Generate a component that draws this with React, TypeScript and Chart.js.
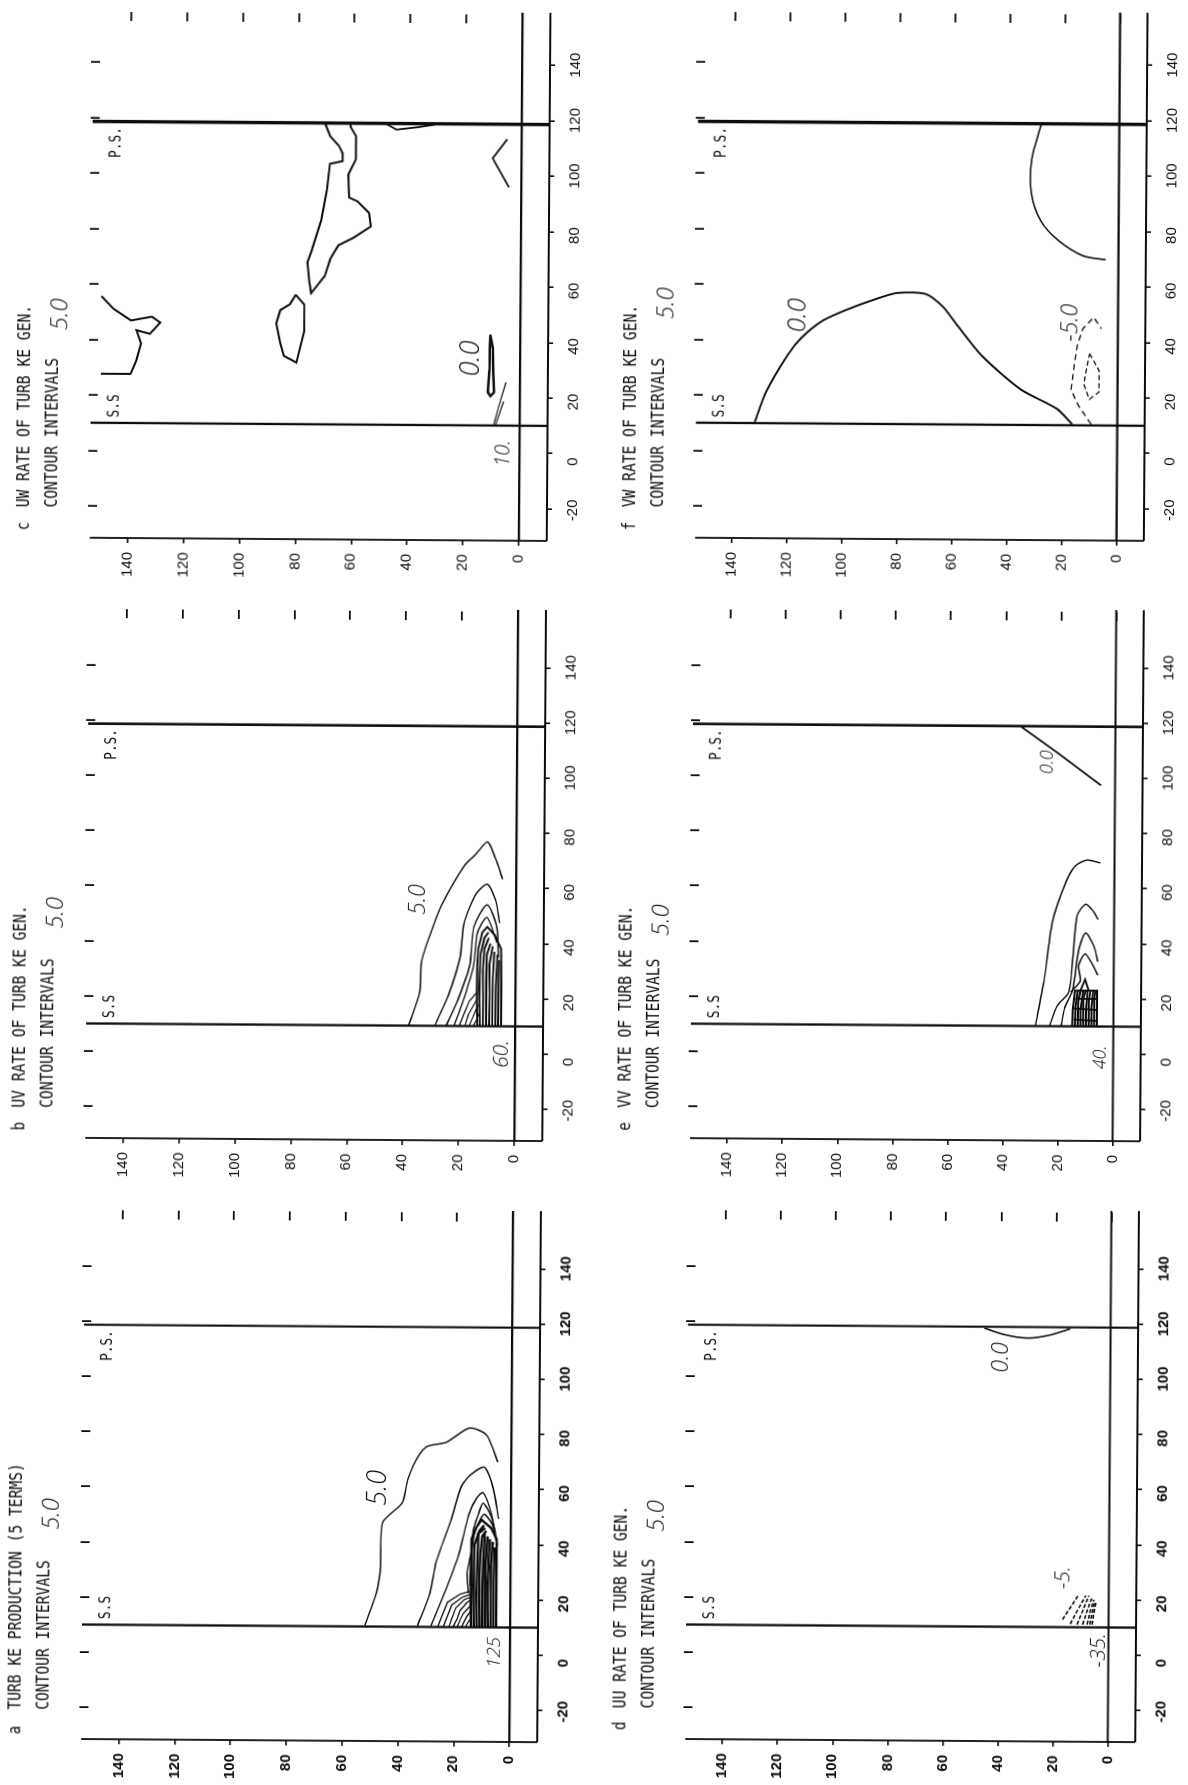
import React, { useEffect, useRef } from "react";
import { Chart, registerables } from "chart.js";

Chart.register(...registerables);

type Pt = [number, number];

const X_TICKS = [-20, 0, 20, 40, 60, 80, 100, 120, 140];
const Y_TICKS = [0, 20, 40, 60, 80, 100, 120, 140];
const SS_X = 10;
const PS_X = 118.7;

// a: turbulence production
const A1: Pt[] = [[10.4,52.1],[22.3,48],[31.8,46.6],[47.7,46],[54.8,39.1],[63.5,37],[71.4,33.6],[75.4,30.2],[77,23.3],[82.2,15.1],[79.7,8.9],[69.9,4.8]];
const A2: Pt[] = [[10.4,33.2],[22.3,28.8],[33.4,26.7],[49.3,21.3],[61.1,17.8],[65.4,14.4],[68,9.6],[60.4,6.4],[49.3,4.4]];
const A3: Pt[] = [[10.4,28.4],[23.1,23.3],[36.6,18.5],[50.8,15.1],[56.9,12.3],[58.8,10],[50.8,6.9],[39.7,4.8]];
const A4: Pt[] = [[22.3,15],[30,15.5],[38,14],[45,13.5],[50,12],[55,10],[50,7],[44,5.5]];
const A5: Pt[] = [[25,14.5],[35,14.2],[44,13],[49,11],[51,9.5],[47,6.5],[40,5]];
const A_ARCS: Pt[][] = [
  [[10,26],[14,24.5],[19,22.5],[22,18],[23,14.5]],
  [[10,24],[14,22.5],[18,21],[21,17],[22,14]],
  [[10,22],[13,21],[17,19.5],[20,16.5],[21,14]],
  [[10,20.5],[13,19],[16,18],[19,15.5],[20,14]],
  [[10,19],[13,17.8],[15,16.8],[17,15],[18,14]],
  [[10,17.5],[12,16.5],[14,15.5],[16,14]],
  [[10,16],[12,15],[13,14]],
];
const A_CORE: Pt[][] = [
  [[10,14],[20,14.2],[30,14],[42,14],[46,12.5],[49,10.5],[46,7],[42,5],[30,5],[20,5],[10,5]],
  [[10,13],[25,13.2],[40,13],[45,11.2],[47,9.6]],
  [[10,12],[22,12.2],[33,11.9],[44,11.6],[46,9.2]],
  [[10,11],[27,11.2],[36,10.9],[43,10.2],[45,8.8]],
  [[10,10],[24,10.1],[35,9.7],[44,9.3]],
  [[10,9],[20,9],[30,9.2],[43,8.3]],
  [[10,8],[26,8.2],[35,7.9],[42,7.4]],
  [[10,7],[22,7],[32,7.1],[41,6.4]],
  [[10,6],[27,6],[39,5.8]],
];

// b: UV rate
const B1: Pt[] = [[10,38.1],[22.4,34.2],[33.5,33.6],[44.6,30.1],[53.6,26.7],[68.2,18.5],[72.4,14.4],[76.8,10.3],[71,7.5],[63.3,4.8]];
const B2: Pt[] = [[10,28.8],[21,24],[34.9,19.9],[47.4,18.5],[57.8,14.4],[61.5,10.3],[55.7,7.3],[47.4,5.8]];
const B3: Pt[] = [[10,24.7],[19.6,20.5],[32,16.4],[46,15],[54,10.3],[46,6.8],[34.9,6.2]];
const B4: Pt[] = [[10,21.9],[19.6,18.5],[32,15],[43.9,13.7],[49.4,10.3],[40.4,6.8]];
const B_ARCS: Pt[][] = [
  [[10,20],[14,18.5],[19,16.5],[22,14]],
  [[10,18],[14,16.8],[17,15.2],[20,13.5]],
  [[10,16.5],[13,15.2],[16,14],[18,13]],
  [[10,15],[12,14],[15,12.6]],
];
const B_CORE: Pt[][] = [
  [[10,13.5],[22,13.8],[32,13.7],[38,13.4],[44,12],[46,10.2],[43,7.5],[38,5.2],[25,5],[10,5]],
  [[10,12.6],[24,12.9],[36,12.6],[42,11.2],[44,9.8]],
  [[10,11.5],[20,11.5],[30,11.7],[38,11.2],[42,9.6]],
  [[10,10.4],[26,10.5],[36,10.3],[40,9]],
  [[10,9.3],[22,9.2],[32,9.4],[39,8.2]],
  [[10,8.2],[27,8.1],[37,7.6]],
  [[10,7.1],[24,7],[36,6.5]],
  [[10,6.1],[24,6],[34,5.9]],
];

// c: UW rate
const C1: Pt[] = [[118.8,70.4],[114,68.5],[110.5,65.3],[107.8,64],[105,64],[104,68.5],[94.6,69.5],[83.6,71.5],[72.5,74.9],[68.4,76.3],[61.5,75.6],[57.3,74.9],[63.5,70.1],[69.8,68.1],[74.6,65.3],[77.4,59.9],[81.5,53.7],[86.4,54.4],[90.5,58.5],[91.9,61.6],[100.2,61.9],[105.7,59.2],[114,59.2],[117.4,61.2],[118.8,61.2]];
const C2: Pt[] = [[56.7,80.4],[53.2,77.4],[43.5,77.3],[32.2,80],[34.6,84.5],[39.4,85.9],[46.3,87.3],[51.1,85.9],[53.2,82.5],[56.7,80.4]];
const C3: Pt[] = [[55.7,149.9],[51.1,145.5],[47,139.3],[48.4,131.8],[46.3,128.8],[42.2,132.5],[43.5,137.3],[38.7,135.6],[32.5,137.3],[27.7,139.3],[27.7,149.9]];
const C4: Pt[] = [[118.8,48.9],[116.5,44.8],[117.4,37.3],[118.4,31.1]];
const C5: Pt[] = [[113.3,5.1],[106.4,10.3],[96,4.4]];
const C6: Pt[] = [[42.8,10.7],[38,10.8],[30,10.9],[22,11.5],[20.6,10.5],[22,9.2],[30,9.6],[38,9.8],[42.8,10.7]];
const C7: Pt[] = [[10.4,9.2],[15.9,7.8],[25.6,5]];
const C8: Pt[] = [[10.4,8.5],[18.7,5.8]];

// d: UU rate
const D1: Pt[] = [[118.2,45.9],[115.8,38.2],[114.7,29.9],[115.8,22.3],[118.2,14.6]];
const D_DASH: Pt[][] = [
  [[12.8,16.7],[17,14],[21.5,11.1]],
  [[11.2,13.9],[16,11.4],[21.5,8.3]],
  [[11,11.4],[16,9.4],[21.5,7.2]],
  [[11,9.4],[16,7.8],[20.5,6.2]],
  [[11,7.8],[16,6.6],[20,5.4]],
  [[11,6.8],[16,5.8],[19.5,5]],
  [[11,6],[16,5.2],[19,4.6]],
];

// e: VV rate
const E1: Pt[] = [[10,28.4],[26.5,25.3],[47.4,22.5],[62,17.7],[68.2,14.2],[70.3,10],[69.3,5.1]];
const E2: Pt[] = [[10,23.2],[17.5,20.4],[22.4,16.3],[34.9,14.9],[50.1,13.5],[54.3,10.4],[52.2,7.9],[48.8,5.8]];
const E3: Pt[] = [[10,19],[16.8,17.7],[23.1,14.9],[37.6,12.8],[43.9,10.3],[39,7.2],[33.5,5.8]];
const E4: Pt[] = [[22.4,15.6],[26.5,12.1],[32,12.8],[36.3,10.4],[32,7.5],[28.6,5.8]];
const E5: Pt[] = [[118.6,34.4],[109.2,21.1],[97.4,5.1]];
const E_CORE: Pt[][] = [
  [[10,15],[16,14.8],[23,14],[23,6],[10,6]],
  [[10,14],[17,13.8],[23,13]],
  [[10,13],[19,12.8],[23,12],[27,10.4],[23,9]],
  [[10,12],[16,12],[23,11]],
  [[10,11],[20,11],[23,10]],
  [[10,10],[16,10],[23,9.4]],
  [[10,9],[19,9],[23,8.4]],
  [[10,8],[17,8],[23,7.4]],
  [[10,7],[20,7],[23,6.6]],
  [[12,6],[12.5,14.5]],
  [[16,6],[16.5,14.5]],
  [[20,6],[20,13.8]],
];

// f: VW rate
const F1: Pt[] = [[10.4,132],[21.4,127.9],[34.6,120.2],[40.8,115.3],[47,107.7],[51.5,97.9],[55.3,87.5],[57.3,80.5],[57,70.1],[52.5,63.8],[46.3,58.9],[34.6,49.2],[22.8,35.2],[15.9,22],[10.4,16.4]];
const F2: Pt[] = [[118.8,28.3],[105.7,31.8],[93.3,31.8],[83.6,28.3],[76.7,22],[71.2,13],[69.8,4.6]];
const F3: Pt[] = [[10.4,9.5],[17.3,14.3],[22.8,16.9],[32.5,15.7],[39.4,14.6],[44.9,12.7],[49,8.8],[44.9,6]];
const F4: Pt[] = [[35.9,10.2],[29.7,6.7],[22.1,6.7],[19.4,10.2],[24.9,12.3],[32.5,10.9],[35.9,10.2]];

type Curve = { d: Pt[]; w: number; dash?: number[]; t?: number };
type Note = { s: string; x: number; y: number; size: number };
type Panel = {
  letter: string; t1: string; t2: string; lx: number; x1: number; x2: number; ival: number;
  pxX: number; pxY: number; p0: Pt; psW: number; tickWeight: "bold" | "normal"; xMax: number;
  curves: Curve[]; notes: Note[];
};

const thin = (d: Pt[]): Curve => ({ d, w: 1.45, t: 0.25 });
const black = (d: Pt[], w = 1.5): Curve => ({ d, w });

const PANELS: Panel[] = [
  { letter: "a", t1: "TURB KE PRODUCTION (5 TERMS)", t2: "CONTOUR INTERVALS", lx: -30, x1: -21, x2: -21, ival: 50, tickWeight: "bold", xMax: 157,
    pxX: 2.757, pxY: 2.79, p0: [510, 1710.3], psW: 2.1,
    curves: [A1, A2, A3, A4, A5].map(thin).concat(A_ARCS.map((d) => black(d, 1.3))).concat(A_CORE.map((d) => black(d, 2.4))),
    notes: [{ s: "5.0", x: 60.3, y: 47.5, size: 27 }, { s: "125", x: 0.9, y: 5.5, size: 19 }] },
  { letter: "b", t1: "UV RATE OF TURB KE GEN.", t2: "CONTOUR INTERVALS", lx: -29, x1: -20.7, x2: -20.7, ival: 50, tickWeight: "normal", xMax: 157,
    pxX: 2.756, pxY: 2.796, p0: [514.7, 1109.2], psW: 2.6,
    curves: [B1, B2, B3, B4].map(thin).concat(B_ARCS.map((d) => black(d, 1.2))).concat(B_CORE.map((d) => black(d, 1.9))),
    notes: [{ s: "5.0", x: 55.7, y: 35, size: 23 }, { s: "60.", x: 0, y: 4.8, size: 21 }] },
  { letter: "c", t1: "UW RATE OF TURB KE GEN.", t2: "CONTOUR INTERVALS", lx: -29, x1: -20.7, x2: -20.7, ival: 49, tickWeight: "normal", xMax: 155,
    pxX: 2.77, pxY: 2.794, p0: [519.3, 509], psW: 3.4,
    curves: [{ d: C1, w: 2 }, { d: C2, w: 2 }, { d: C3, w: 2 }, { d: C4, w: 1.8 }, { d: C5, w: 1.8 }, { d: C6, w: 2.5 }, { d: C7, w: 1.2 }, { d: C8, w: 1.2 }],
    notes: [{ s: "0.0", x: 34.1, y: 17.4, size: 27 }, { s: "10.", x: 0, y: 5.8, size: 20 }] },
  { letter: "d", t1: "UU RATE OF TURB KE GEN.", t2: "CONTOUR INTERVALS", lx: -28.4, x1: -20.5, x2: -20.5, ival: 49.3, tickWeight: "bold", xMax: 157,
    pxX: 2.757, pxY: 2.75, p0: [1108, 1710.3], psW: 2.1,
    curves: [{ d: D1, w: 1.6, t: 0.3 }].concat(D_DASH.map((d) => ({ d, w: 1.6, dash: [4, 2] }))),
    notes: [{ s: "0.0", x: 107.6, y: 39.6, size: 23 }, { s: "-5.", x: 27.9, y: 16.7, size: 21 }, { s: "-35.", x: 1.7, y: 3.5, size: 21 }] },
  { letter: "e", t1: "VV RATE OF TURB KE GEN.", t2: "CONTOUR INTERVALS", lx: -29, x1: -20.7, x2: -20.7, ival: 47.4, tickWeight: "normal", xMax: 157,
    pxX: 2.756, pxY: 2.751, p0: [1113, 1109.2], psW: 2.6,
    curves: [E1, E2, E3, E4].map(thin).concat([{ d: E5, w: 1.8 }]).concat(E_CORE.map((d) => black(d, 1.9))),
    notes: [{ s: "0.0", x: 105.7, y: 24.6, size: 18 }, { s: "40.", x: -1.2, y: 4.5, size: 18 }] },
  { letter: "f", t1: "VW RATE OF TURB KE GEN.", t2: "CONTOUR INTERVALS", lx: -29, x1: -20.7, x2: -20.7, ival: 53, tickWeight: "normal", xMax: 155,
    pxX: 2.77, pxY: 2.747, p0: [1117, 509], psW: 3.4,
    curves: [{ d: F1, w: 1.9, t: 0.25 }, { d: F2, w: 1.6, t: 0.3 }, { d: F3, w: 1.3, dash: [6, 4] }, { d: F4, w: 1.3, dash: [5, 3] }],
    notes: [{ s: "0.0", x: 49, y: 116.7, size: 26 }, { s: "-5.0", x: 47, y: 17.1, size: 23 }] },
];

const X_MIN = -31.5;
const Y_MIN = -10;
const Y_MAX = 151;
const M_L = 50;
const M_R = 20;
const M_T = 100;
const M_B = 50;
const TILT = -89.6;
const INK = "#0c0c0c";
const MONO = '"DejaVu Sans Mono", monospace';
const TICK_FONT = '"Liberation Sans Narrow", "Liberation Sans", sans-serif';
const HAND = '"Open Sans", "DejaVu Sans", sans-serif';

function size(p: Panel) {
  return {
    w: Math.round((p.xMax - X_MIN) * p.pxX) + M_L + M_R,
    h: Math.round((Y_MAX - Y_MIN) * p.pxY) + M_T + M_B,
  };
}

function lettering(ctx: CanvasRenderingContext2D, s: string, x: number, y: number, fs: number, sx: number) {
  ctx.save();
  ctx.translate(x, y);
  ctx.scale(sx, 1);
  ctx.font = `${fs}px ${MONO}`;
  ctx.fillStyle = INK;
  ctx.textAlign = "left";
  ctx.textBaseline = "middle";
  ctx.fillText(s, 0, 0);
  ctx.restore();
}

function makeChart(canvas: HTMLCanvasElement, p: Panel) {
  const line = (d: Pt[], w: number, extra: any = {}) => ({
    data: d.map(([x, y]) => ({ x, y })),
    showLine: true,
    borderColor: INK,
    borderWidth: w,
    pointRadius: 0,
    clip: false as any,
    tension: 0,
    ...extra,
  });
  const xEnd = p.xMax + 4;
  const frame = [
    line([[X_MIN, 0], [xEnd, 0]], 2.2),
    line([[X_MIN, -10], [X_MIN, 153.5]], 1.8),
    line([[X_MIN, -10], [xEnd, -10]], 1.8),
    line([[SS_X, -10], [SS_X, 153.5]], 2.3),
    line([[PS_X, -10], [PS_X, 153.5]], p.psW),
  ];
  const curves = p.curves.map((c) => line(c.d, c.w, { borderDash: c.dash ?? [], tension: c.t ?? 0 }));
  const textPlugin = {
    id: "panelText",
    afterDatasetsDraw(chart: any) {
      const { ctx, scales } = chart;
      const X = (v: number) => scales.x.getPixelForValue(v);
      const Y = (v: number) => scales.y.getPixelForValue(v);
      lettering(ctx, p.letter, X(p.lx), Y(177), 18, 0.79);
      lettering(ctx, p.t1, X(p.x1), Y(177), 18.5, 0.79);
      lettering(ctx, p.t2, X(p.x2), Y(167), 18.5, 0.79);
      lettering(ctx, "S.S", X(12), Y(145), 16, 0.8);
      lettering(ctx, "P.S.", X(105.6), Y(145), 16, 0.8);
      ctx.save();
      ctx.fillStyle = "#111";
      ctx.textAlign = "center";
      ctx.textBaseline = "middle";
      ctx.font = `italic 300 24px ${HAND}`;
      ctx.fillText("5.0", X(p.ival), Y(164.5));
      for (const n of p.notes) {
        ctx.font = `italic 300 ${n.size}px ${HAND}`;
        ctx.fillText(n.s, X(n.x), Y(n.y));
      }
      ctx.restore();
    },
  };
  const tickFont = { family: TICK_FONT, size: 15, weight: p.tickWeight };
  return new Chart(canvas, {
    type: "scatter",
    data: { datasets: [...frame, ...curves] as any },
    plugins: [textPlugin],
    options: {
      responsive: false,
      animation: false,
      layout: { padding: 0 },
      plugins: { legend: { display: false }, title: { display: false }, tooltip: { enabled: false } },
      scales: {
        x: {
          type: "linear", position: "bottom", min: X_MIN, max: p.xMax,
          afterBuildTicks: (s: any) => { s.ticks = X_TICKS.map((value) => ({ value })); },
          afterFit: (s: any) => { s.height = M_B; },
          grid: { drawOnChartArea: false, tickLength: 5, color: INK, lineWidth: 1.6 },
          border: { display: false },
          ticks: { color: INK, font: tickFont, padding: 12, align: "start", labelOffset: -12, minRotation: 0, maxRotation: 0, autoSkip: false, callback: (v: any) => String(v) },
        },
        y: {
          type: "linear", position: "left", min: Y_MIN, max: Y_MAX,
          afterBuildTicks: (s: any) => { s.ticks = Y_TICKS.map((value) => ({ value })); },
          afterFit: (s: any) => { s.width = M_L; },
          grid: { drawOnChartArea: false, tickLength: 5, color: INK, lineWidth: 1.6 },
          border: { display: false },
          ticks: { color: INK, font: tickFont, padding: 9, autoSkip: false, callback: (v: any) => String(v) },
        },
        x2: {
          type: "linear", position: "top", min: X_MIN, max: p.xMax,
          afterBuildTicks: (s: any) => { s.ticks = X_TICKS.map((value) => ({ value })); },
          afterFit: (s: any) => { s.height = M_T; },
          grid: { drawOnChartArea: false, tickLength: 9, color: INK, lineWidth: 1.8 },
          border: { display: false },
          ticks: { display: false },
        },
        y2: {
          type: "linear", position: "right", min: Y_MIN, max: Y_MAX,
          afterBuildTicks: (s: any) => { s.ticks = Y_TICKS.map((value) => ({ value })); },
          afterFit: (s: any) => { s.width = M_R; },
          grid: { drawOnChartArea: false, tickLength: 9, color: INK, lineWidth: 1.8 },
          border: { display: false },
          ticks: { display: false },
        },
      } as any,
    },
  });
}

function PanelCanvas({ p }: { p: Panel }) {
  const ref = useRef<HTMLCanvasElement>(null);
  useEffect(() => {
    const chart = makeChart(ref.current!, p);
    return () => chart.destroy();
  }, [p]);
  const { w, h } = size(p);
  const ox = M_L + (-20 - X_MIN) * p.pxX;
  const oy = M_T + (Y_MAX - 0) * p.pxY;
  return (
    <canvas
      ref={ref}
      width={w}
      height={h}
      style={{
        position: "absolute",
        display: "block",
        width: w,
        height: h,
        left: p.p0[0] - ox,
        top: p.p0[1] - oy,
        transformOrigin: `${ox}px ${oy}px`,
        transform: `rotate(${TILT}deg)`,
        filter: "blur(0.5px)",
      }}
    />
  );
}

export default function App() {
  return (
    <div style={{ position: "absolute", left: 0, top: 0, width: 1188, height: 1785, overflow: "hidden", background: "#fff" }}>
      {PANELS.map((p) => (
        <PanelCanvas key={p.letter} p={p} />
      ))}
    </div>
  );
}
